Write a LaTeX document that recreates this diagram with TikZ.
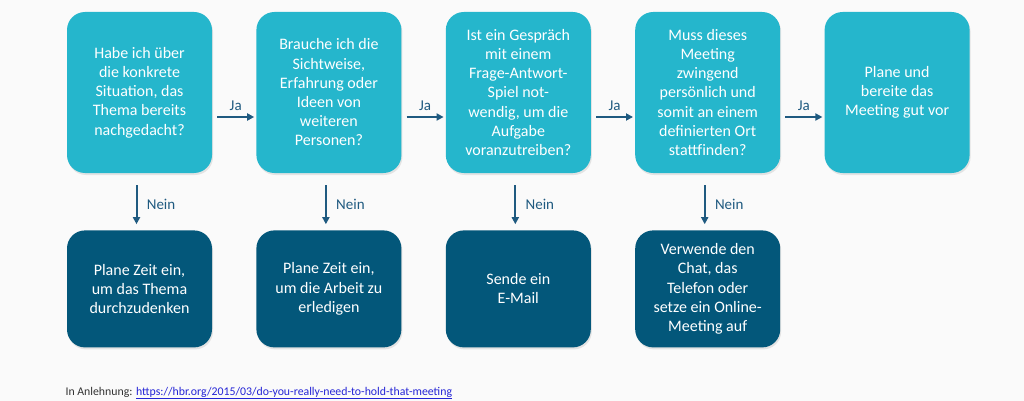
\documentclass[tikz,border=0pt]{standalone}
\usepackage{fontspec}
\setmainfont{Carlito}
\usetikzlibrary{positioning,shadows,arrows.meta}

\definecolor{frageblau}{HTML}{25B6CC}
\definecolor{dunkelblau}{HTML}{03577A}
\definecolor{pfeilblau}{HTML}{1F5A80}
\definecolor{hgrund}{HTML}{FAFAFA}
\definecolor{linkblau}{HTML}{2424D6}

\tikzset{
    frage/.style={fill=frageblau, rounded corners=18pt, minimum width=145pt,
        minimum height=161pt, align=center, text=white, inner sep=2pt,
        font=\fontsize{16}{19.2}\selectfont,
        drop shadow={shadow xshift=1pt, shadow yshift=-2pt, opacity=0.18}},
    antwort/.style={frage, fill=dunkelblau, minimum height=117pt},
    pfeil/.style={-{Triangle[length=7pt,width=7pt]}, draw=pfeilblau, line width=2pt},
    marke/.style={text=pfeilblau, font=\fontsize{15}{17}\selectfont}
}

\begin{document}
\begin{tikzpicture}[x=1pt, y=-1pt]
    \fill[hgrund] (0, 0) rectangle (1024, 401);
    \useasboundingbox (0, 0) rectangle (1024, 401);

    % Fragen
    \node[frage] (f1) at (139.5, 92.5) {Habe ich über\\die konkrete\\Situation, das\\Thema bereits\\nachgedacht?};
    \node[frage, right=44pt of f1] (f2) {Brauche ich die\\Sichtweise,\\Erfahrung oder\\Ideen von\\weiteren\\Personen?};
    \node[frage, right=44pt of f2] (f3) {Ist ein Gespräch\\mit einem\\Frage-Antwort-\\Spiel not-\\wendig, um die\\Aufgabe\\voranzutreiben?};
    \node[frage, right=44pt of f3] (f4) {Muss dieses\\Meeting\\zwingend\\persönlich und\\somit an einem\\definierten Ort\\stattfinden?};
    \node[frage, right=44pt of f4] (f5) {Plane und\\bereite das\\Meeting gut vor};

    % Antworten
    \node[antwort, below=57pt of f1] (a1) {Plane Zeit ein,\\um das Thema\\durchzudenken};
    \node[antwort, below=57pt of f2] (a2) {Plane Zeit ein,\\um die Arbeit zu\\erledigen};
    \node[antwort, below=57pt of f3] (a3) {Sende ein\\E-Mail};
    \node[antwort, below=57pt of f4] (a4) {Verwende den\\Chat, das\\Telefon oder\\setze ein Online-\\Meeting auf};

    % Ja
    \foreach \i/\j in {1/2, 2/3, 3/4, 4/5} {
        \draw[pfeil] ([xshift=5pt, yshift=-24.5pt]f\i.east) -- ([xshift=-2pt, yshift=-24.5pt]f\j.west)
            node[marke, midway, above=2pt] {Ja};
    }

    % Nein
    \foreach \i in {1, 2, 3, 4} {
        \draw[pfeil] ([xshift=-3pt, yshift=-12pt]f\i.south) -- ([xshift=-3pt, yshift=6pt]a\i.north)
            node[marke, midway, right=6pt] {Nein};
    }

    \node[anchor=base west, font=\fontsize{11.8}{13}\selectfont, text=black!80] (quelle) at (62, 395)
        {In Anlehnung: \textcolor{linkblau}{\underline{https://hbr.org/2015/03/do-you-really-need-to-hold-that-meeting}}};
\end{tikzpicture}
\end{document}
